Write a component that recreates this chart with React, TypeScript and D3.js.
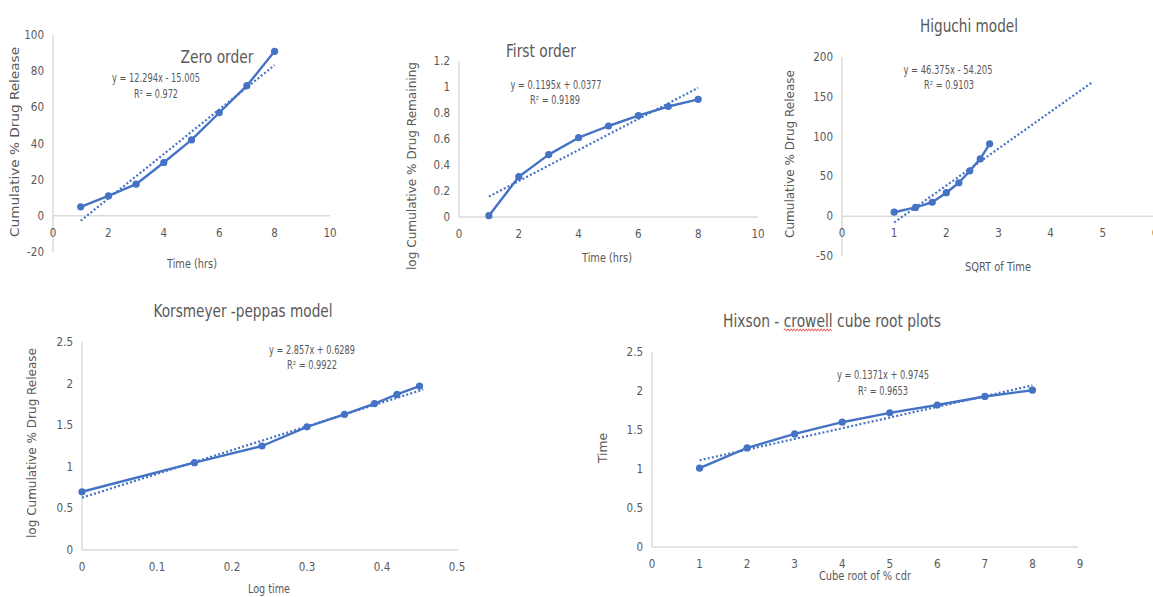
import React, { useEffect, useRef } from "react";
import * as d3 from "d3";

// ---------- DATA ----------
const zeroX = [1, 2, 3, 4, 5, 6, 7, 8];
const zeroY = [5, 11, 17.5, 29.5, 42, 57, 72, 91];
const zeroXTicks = [0, 2, 4, 6, 8, 10];
const zeroYTicks = [-20, 0, 20, 40, 60, 80, 100];

const firstX = [1, 2, 3, 4, 5, 6, 7, 8];
const firstY = [0.01, 0.31, 0.48, 0.61, 0.7, 0.78, 0.85, 0.905];
const firstXTicks = [0, 2, 4, 6, 8, 10];
const firstYTicks = [0, 0.2, 0.4, 0.6, 0.8, 1, 1.2];

const higuchiX = [1, 1.41, 1.73, 2, 2.24, 2.45, 2.65, 2.83];
const higuchiY = [5, 11, 17.5, 29.5, 42, 57, 72, 91];
const higuchiXTicks = [0, 1, 2, 3, 4, 5, 6];
const higuchiYTicks = [-50, 0, 50, 100, 150, 200];

const peppasX = [0, 0.15, 0.24, 0.3, 0.35, 0.39, 0.42, 0.45];
const peppasY = [0.7, 1.05, 1.25, 1.48, 1.63, 1.76, 1.87, 1.97];
const peppasXTicks = [0, 0.1, 0.2, 0.3, 0.4, 0.5];
const peppasYTicks = [0, 0.5, 1, 1.5, 2, 2.5];

const hixsonX = [1, 2, 3, 4, 5, 6, 7, 8];
const hixsonY = [1.01, 1.27, 1.45, 1.6, 1.72, 1.82, 1.93, 2.01];
const hixsonXTicks = [0, 1, 2, 3, 4, 5, 6, 7, 8, 9];
const hixsonYTicks = [0, 0.5, 1, 1.5, 2, 2.5];

// trendline slope, intercept, x-extent
const trendSlopes = [12.294, 0.1195, 46.375, 2.857, 0.1371];
const trendIntercepts = [-15.005, 0.0377, -54.205, 0.6289, 0.9745];
const trendStarts = [1, 1, 1, 0, 1];
const trendEnds = [8, 8, 4.8, 0.455, 8];

const titles = ["Zero order", "First order", "Higuchi model", "Korsmeyer -peppas model", "Hixson - crowell cube root plots"];
const xTitles = ["Time (hrs)", "Time (hrs)", "SQRT of Time", "Log time", "Cube root of % cdr"];
const yTitles = [
  "Cumulative % Drug Release",
  "log Cumulative % Drug Remaining",
  "Cumulative % Drug Release",
  "log Cumulative % Drug Release",
  "Time",
];
const equations = ["y = 12.294x - 15.005", "y = 0.1195x + 0.0377", "y = 46.375x - 54.205", "y = 2.857x + 0.6289", "y = 0.1371x + 0.9745"];
const r2Values = ["0.972", "0.9189", "0.9103", "0.9922", "0.9653"];

// ---------- LAYOUT ----------
const layouts = [
  { xs: zeroX, ys: zeroY, xt: zeroXTicks, yt: zeroYTicks, xr: [53, 330], yr: [252, 35], axisEnd: 330,
    title: [217, 63, 73], xTitle: [192, 268, 50], yTitle: [19, 142, 190], eq: [156, 82, 88], r2: [156, 98, 44] },
  { xs: firstX, ys: firstY, xt: firstXTicks, yt: firstYTicks, xr: [459, 758], yr: [217, 61], axisEnd: 758,
    title: [541, 57, 70], xTitle: [607, 262, 50], yTitle: [416, 166, 208], eq: [556, 89, 91], r2: [555, 104, 50] },
  { xs: higuchiX, ys: higuchiY, xt: higuchiXTicks, yt: higuchiYTicks, xr: [842, 1155], yr: [256, 57], axisEnd: 1153,
    title: [969, 32, 98], xTitle: [998, 271, 66], yTitle: [794, 154, 168], eq: [948, 74, 89], r2: [949, 89, 50] },
  { xs: peppasX, ys: peppasY, xt: peppasXTicks, yt: peppasYTicks, xr: [82, 457], yr: [550, 342], axisEnd: 458,
    title: [243, 317, 179], xTitle: [269, 593, 42], yTitle: [36, 443, 190], eq: [312, 354, 86], r2: [312, 369, 50] },
  { xs: hixsonX, ys: hixsonY, xt: hixsonXTicks, yt: hixsonYTicks, xr: [652, 1080], yr: [547, 352], axisEnd: 1078,
    title: [832, 327, 218], xTitle: [865, 580, 92], yTitle: [607, 448, 30], eq: [883, 379, 92], r2: [883, 395, 50] },
];

const BLUE = "#4472C4";
const TEXT = "#595959";
const AXIS = "#c8c8c8";
const FONT = "'Liberation Sans Narrow', 'DejaVu Sans Condensed', 'Roboto', sans-serif";

export default function App() {
  const ref = useRef<SVGSVGElement | null>(null);

  useEffect(() => {
    const svg = d3.select(ref.current);
    svg.selectAll("*").remove();

    layouts.forEach((L, i) => {
      const xd = [L.xt[0], L.xt[L.xt.length - 1]];
      const yd = [L.yt[0], L.yt[L.yt.length - 1]];
      const x = d3.scaleLinear().domain(xd).range(L.xr);
      const y = d3.scaleLinear().domain(yd).range(L.yr);
      const g = svg.append("g").attr("font-family", FONT);
      const y0 = y(0);

      // axes lines
      g.append("line").attr("x1", x(xd[0])).attr("x2", L.axisEnd).attr("y1", y0).attr("y2", y0)
        .attr("stroke", AXIS).attr("stroke-width", 1);
      g.append("line").attr("x1", x(xd[0])).attr("x2", x(xd[0])).attr("y1", y(yd[0])).attr("y2", y(yd[1]))
        .attr("stroke", AXIS).attr("stroke-width", 1);

      // tick labels
      g.selectAll(".xt").data(L.xt).enter().append("text")
        .attr("x", (d) => x(d)).attr("y", y0 + 21).attr("text-anchor", "middle")
        .attr("font-size", 11.5).attr("fill", TEXT).text((d) => String(d));
      g.selectAll(".yt").data(L.yt).enter().append("text")
        .attr("x", x(xd[0]) - 9).attr("y", (d) => y(d) + 4).attr("text-anchor", "end")
        .attr("font-size", 11.5).attr("fill", TEXT).text((d) => String(d));

      // trendline
      const tx = [trendStarts[i], trendEnds[i]];
      g.append("path")
        .attr("d", d3.line<number>().x((d) => x(d)).y((d) => y(trendSlopes[i] * d + trendIntercepts[i]))(tx))
        .attr("fill", "none").attr("stroke", BLUE).attr("stroke-width", 2.2).attr("stroke-dasharray", "2,2.2");

      // data line
      const pts = L.xs.map((v, k) => [v, L.ys[k]] as [number, number]);
      g.append("path")
        .attr("d", d3.line<[number, number]>().x((d) => x(d[0])).y((d) => y(d[1]))(pts))
        .attr("fill", "none").attr("stroke", BLUE).attr("stroke-width", 2.4).attr("stroke-linejoin", "round");
      g.selectAll(".pt").data(pts).enter().append("circle")
        .attr("cx", (d) => x(d[0])).attr("cy", (d) => y(d[1])).attr("r", 3.6).attr("fill", BLUE);

      // chart title
      const t = g.append("text").attr("x", L.title[0]).attr("y", L.title[1]).attr("text-anchor", "middle")
        .attr("font-size", 18).attr("fill", TEXT)
        .attr("textLength", L.title[2]).attr("lengthAdjust", "spacingAndGlyphs")
        .text(titles[i]);

      if (i === 4) {
        // spell-check wavy underline under "crowell"
        const node = t.node() as SVGTextElement;
        const txt = titles[i];
        const start = txt.indexOf("crowell");
        try {
          const startPos = node.getStartPositionOfChar(start);
          const endPos = node.getEndPositionOfChar(start + 6);
          const wy = L.title[1] + 3;
          let dStr = `M${startPos.x},${wy}`;
          let up = true;
          for (let px = startPos.x + 1.5; px <= endPos.x; px += 1.5) {
            dStr += ` L${px},${wy + (up ? -1.2 : 1.2)}`;
            up = !up;
          }
          g.append("path").attr("d", dStr).attr("fill", "none").attr("stroke", "#e03030").attr("stroke-width", 0.8);
        } catch (e) {}
      }

      // axis titles
      g.append("text").attr("x", L.xTitle[0]).attr("y", L.xTitle[1]).attr("text-anchor", "middle")
        .attr("font-size", 12).attr("fill", TEXT).attr("textLength", L.xTitle[2]).attr("lengthAdjust", "spacingAndGlyphs")
        .text(xTitles[i]);
      g.append("text").attr("transform", `translate(${L.yTitle[0]},${L.yTitle[1]}) rotate(-90)`)
        .attr("x", 0).attr("y", 0).attr("text-anchor", "middle")
        .attr("font-size", 11.5).attr("fill", TEXT).attr("textLength", L.yTitle[2]).attr("lengthAdjust", "spacingAndGlyphs")
        .text(yTitles[i]);

      // equation + R²
      g.append("text").attr("x", L.eq[0]).attr("y", L.eq[1]).attr("text-anchor", "middle")
        .attr("font-size", 11.5).attr("fill", TEXT).attr("textLength", L.eq[2]).attr("lengthAdjust", "spacingAndGlyphs")
        .text(equations[i]);
      g.append("text").attr("x", L.r2[0]).attr("y", L.r2[1]).attr("text-anchor", "middle")
        .attr("font-size", 11.5).attr("fill", TEXT).attr("textLength", L.r2[2]).attr("lengthAdjust", "spacingAndGlyphs")
        .text(`R² = ${r2Values[i]}`);
    });
  }, []);

  return (
    <svg
      ref={ref}
      width={1153}
      height={597}
      style={{ position: "absolute", left: 0, top: 0, background: "#ffffff" }}
    />
  );
}
